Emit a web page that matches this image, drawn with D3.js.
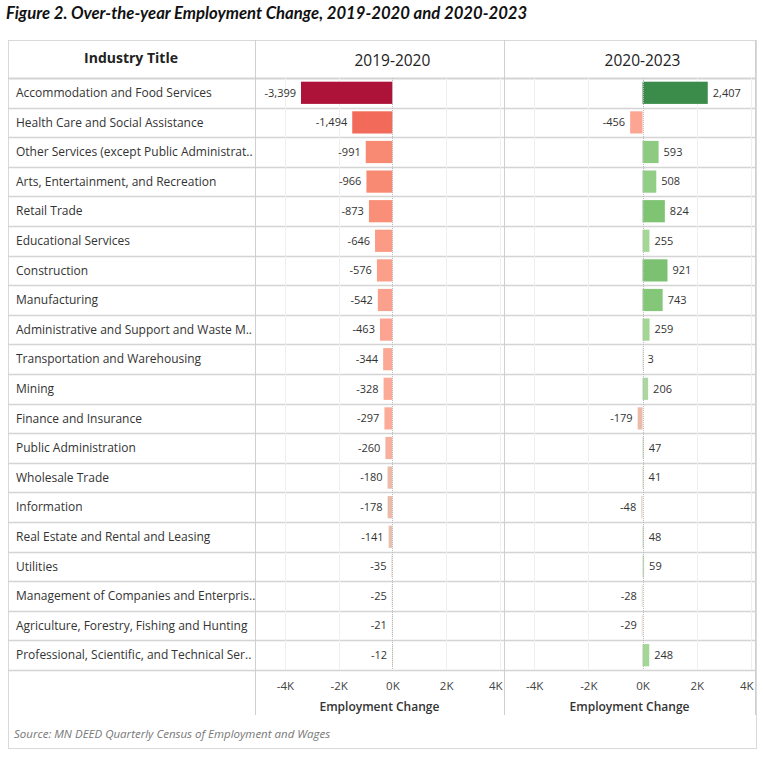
<!DOCTYPE html>
<html><head><meta charset="utf-8">
<script src="https://cdn.jsdelivr.net/npm/d3@7"></script>
<style>
body{margin:0;background:#fff;}
svg{display:block;}
</style></head>
<body>
<svg id="chart" width="763" height="759"></svg>
<script>
const industries = [
  "Accommodation and Food Services",
  "Health Care and Social Assistance",
  "Other Services (except Public Administrat..",
  "Arts, Entertainment, and Recreation",
  "Retail Trade",
  "Educational Services",
  "Construction",
  "Manufacturing",
  "Administrative and Support and Waste M..",
  "Transportation and Warehousing",
  "Mining",
  "Finance and Insurance",
  "Public Administration",
  "Wholesale Trade",
  "Information",
  "Real Estate and Rental and Leasing",
  "Utilities",
  "Management of Companies and Enterpris..",
  "Agriculture, Forestry, Fishing and Hunting",
  "Professional, Scientific, and Technical Ser.."
];
const change2019_2020 = [-3399,-1494,-991,-966,-873,-646,-576,-542,-463,-344,-328,-297,-260,-180,-178,-141,-35,-25,-21,-12];
const change2020_2023 = [2407,-456,593,508,824,255,921,743,259,3,206,-179,47,41,-48,48,59,-28,-29,248];
const periods = ["2019-2020","2020-2023"];
const tickValues = [-4000,-2000,0,2000,4000];
const tickLabels = ["-4K","-2K","0K","2K","4K"];
const titleText = "Figure 2. Over-the-year Employment Change, 2019-2020 and 2020-2023";
const sourceText = "Source: MN DEED Quarterly Census of Employment and Wages";
const axisTitle = "Employment Change";
const columnHeader = "Industry Title";

const svg = d3.select("#chart");
const FONT = "'Open Sans', sans-serif";
const fmt = d3.formatLocale({decimal:".", thousands:",", grouping:[3], currency:["$",""], minus:"-"}).format(",");

const L = {left:8, labelRight:255, right:755, outerRight:757, headTop:40, rowsTop:78, rowsBottom:670, bottom:748};
const panels = [
  {range:[255,504], values: change2019_2020, name: periods[0]},
  {range:[504,755], values: change2020_2023, name: periods[1]}
];
const domain = [-5110, 4150];

const y = d3.scaleBand().domain(industries).range([L.rowsTop, L.rowsBottom]).paddingInner(0.25).paddingOuter(0.125);
const rowStep = y.step();

const color = d3.scaleLinear()
  .domain([-3400,-1500,-900,-450,-300,-180,-120,0,50,250,800,2400])
  .range(["#ad1338","#f26b5a","#f98e76","#fca592","#fbab98","#ecbba8","#e6c2b2","#dedcd2","#c8dcbc","#a4d696","#80c574","#3b8c4a"])
  .clamp(true);

// title
svg.append("text").attr("x",6).attr("y",19)
  .attr("font-family","Lato, sans-serif").attr("font-weight","bold").attr("font-style","italic")
  .attr("font-size",16.7).attr("fill","#111").text(titleText);

// outer border
svg.append("rect").attr("x",L.left+0.5).attr("y",L.headTop+0.5)
  .attr("width",L.outerRight-L.left-1).attr("height",L.bottom-L.headTop)
  .attr("fill","none").attr("stroke","#d9d9d9");

// row separators
const sepYs = d3.range(industries.length+1).map(i => L.rowsTop + i*rowStep);
svg.append("g").selectAll("line").data(sepYs).join("line")
  .attr("x1",L.left).attr("x2",L.right)
  .attr("y1",d=>Math.round(d)+0.5).attr("y2",d=>Math.round(d)+0.5)
  .attr("stroke","#d4d4d4").attr("stroke-width",(d,i)=> (i===0?2:1.5));

// panel separators
[L.labelRight, 504, L.right].forEach(x=>{
  svg.append("line").attr("x1",x+0.5).attr("x2",x+0.5).attr("y1",L.headTop).attr("y2",715)
    .attr("stroke","#d0d0d0").attr("stroke-width",1);
});

// header
svg.append("text").attr("x",131).attr("y",63).attr("text-anchor","middle")
  .attr("font-family",FONT).attr("font-weight","bold").attr("font-size",14).attr("fill","#222")
  .text(columnHeader);

// row labels
svg.append("g").selectAll("text").data(industries).join("text")
  .attr("x",16).attr("y",d=>y(d)+y.bandwidth()/2).attr("dy","0.35em")
  .attr("font-family",FONT).attr("font-size",12).attr("fill","#333")
  .text(d=>d);

panels.forEach(p=>{
  const x = d3.scaleLinear().domain(domain).range(p.range);
  const g = svg.append("g");
  const cx = x(0);
  // header
  g.append("text").attr("x",cx).attr("y",66).attr("text-anchor","middle")
    .attr("font-family",FONT).attr("font-size",15.5).attr("fill","#222").text(p.name);
  // gridlines
  g.selectAll("line.grid").data(tickValues.filter(v=>v!==0)).join("line").attr("class","grid")
    .attr("x1",d=>Math.round(x(d))+0.5).attr("x2",d=>Math.round(x(d))+0.5)
    .attr("y1",L.rowsTop).attr("y2",L.rowsBottom).attr("stroke","#efefef");
  // bars
  const data = industries.map((n,i)=>({n, v:p.values[i]}));
  g.selectAll("rect.bar").data(data).join("rect").attr("class","bar")
    .attr("x",d=>x(Math.min(0,d.v))).attr("width",d=>Math.max(0.8,Math.abs(x(d.v)-x(0))))
    .attr("y",d=>y(d.n)).attr("height",y.bandwidth())
    .attr("fill",d=>color(d.v));
  // zero line
  g.append("line").attr("x1",Math.round(cx)+0.5).attr("x2",Math.round(cx)+0.5)
    .attr("y1",L.rowsTop).attr("y2",L.rowsBottom)
    .attr("stroke","#bbb").attr("stroke-dasharray","1,1");
  // value labels
  g.selectAll("text.val").data(data).join("text").attr("class","val")
    .attr("x",d=> d.v<0 ? x(d.v)-5 : x(d.v)+5)
    .attr("y",d=>y(d.n)+y.bandwidth()/2).attr("dy","0.35em")
    .attr("text-anchor",d=>d.v<0?"end":"start")
    .attr("font-family",FONT).attr("font-size",11).attr("fill","#333")
    .text(d=>fmt(d.v));
  // axis
  const axis = d3.axisBottom(x).tickValues(tickValues).tickSize(0).tickPadding(0)
    .tickFormat((d,i)=>tickLabels[i]);
  const ag = g.append("g").attr("transform",`translate(0,${L.rowsBottom})`).call(axis);
  ag.select(".domain").remove();
  ag.selectAll("text").attr("y",16).attr("dy","0.35em")
    .attr("font-family",FONT).attr("font-size",11.5).attr("fill","#444");
  ag.selectAll(".tick").filter(d=>x(d)+8>p.range[1]).select("text")
    .attr("text-anchor","end").attr("x",p.range[1]-2-x(4000));
  g.append("text").attr("x",cx-13).attr("y",711).attr("text-anchor","middle")
    .attr("font-family",FONT).attr("font-weight",600).attr("font-size",12).attr("fill","#333")
    .text(axisTitle);
});

// source
svg.append("text").attr("x",14).attr("y",738)
  .attr("font-family",FONT).attr("font-style","italic").attr("font-size",11.5).attr("fill","#777")
  .text(sourceText);
</script>
</body></html>
